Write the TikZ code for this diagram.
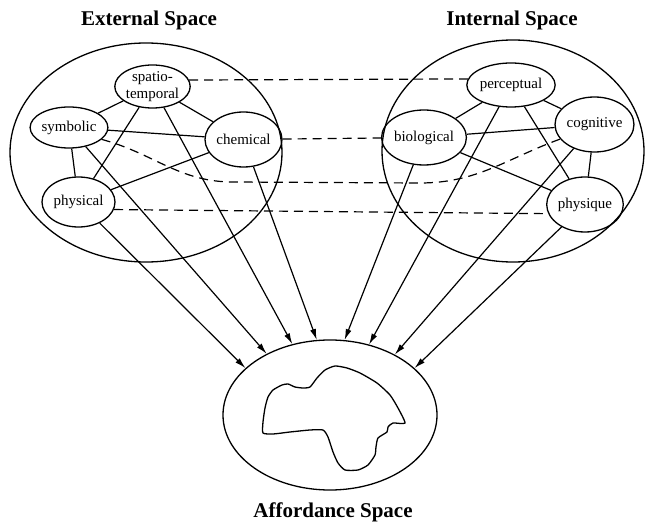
\documentclass[tikz,border=0pt]{standalone}
\usepackage{fontspec}
\setmainfont{Liberation Serif}
\usetikzlibrary{shapes.geometric}
\usetikzlibrary{arrows.meta}

\tikzset{
  spacering/.style={draw,ellipse,line width=1.3pt,inner sep=0pt},
  facet/.style={draw,ellipse,line width=1.3pt,inner sep=0pt,align=center,
    font=\fontsize{15}{17}\selectfont},
  title/.style={font=\fontsize{21}{24}\selectfont\bfseries},
  link/.style={line width=1.2pt},
  bridge/.style={line width=1.2pt,dash pattern=on 9pt off 6pt},
  feed/.style={line width=1.2pt,-{Latex[length=11pt,width=6pt]}}
}

\begin{document}
\begin{tikzpicture}[x=1pt,y=1pt]
  \useasboundingbox (0,0) rectangle (646,523);

  % the three spaces
  \node [spacering,minimum width=272pt,minimum height=219pt] (ext) at (146,370.5) {};
  \node [spacering,minimum width=262pt,minimum height=222pt] (int) at (513,372) {};
  \node [spacering,minimum width=214pt,minimum height=150pt] (aff) at (330,108) {};

  \node [title] (exttitle) at (149,503) {External Space};
  \node [title] (inttitle) at (512,503) {Internal Space};
  \node [title] (afftitle) at (333,11) {Affordance Space};

  % external facets
  \node [facet,minimum width=75pt,minimum height=43pt] (spatio) at (152.5,436.5) {spatio-\\temporal};
  \node [facet,minimum width=72pt,minimum height=41pt] (symb) at (69,395.5) {symbolic};
  \node [facet,minimum width=77pt,minimum height=55pt] (chem) at (243.5,383.5) {chemical};
  \node [facet,minimum width=73pt,minimum height=50pt] (phys) at (78.5,321) {physical};

  % internal facets
  \node [facet,minimum width=78pt,minimum height=44pt] (percep) at (511,438) {perceptual};
  \node [facet,minimum width=73pt,minimum height=55pt] (cog) at (594.5,398.5) {cognitive};
  \node [facet,minimum width=68pt,minimum height=55pt] (bio) at (424,385.5) {biological};
  \node [facet,minimum width=74pt,minimum height=55pt] (physq) at (585,318.5) {physique};

  \draw [link] (spatio) -- (symb);
  \draw [link] (spatio) -- (chem);
  \draw [link] (spatio) -- (phys);
  \draw [link] (symb) -- (chem);
  \draw [link] (symb) -- (phys);
  \draw [link] (phys) -- (chem);

  \draw [link] (percep) -- (bio);
  \draw [link] (percep) -- (cog);
  \draw [link] (percep) -- (physq);
  \draw [link] (bio) -- (cog);
  \draw [link] (bio) -- (physq);
  \draw [link] (cog) -- (physq);

  % correspondences
  \draw [bridge] (spatio.10) -- (percep.172);
  \draw [bridge] (chem) -- (bio);
  \draw [bridge] (phys.-12) -- (physq.194);
  \coordinate (dipL) at (233,341);
  \coordinate (dipR) at (420,340);
  \draw [bridge] (symb.-20) to[out=-15,in=180] (dipL) -- (dipR) to[out=0,in=200] (cog.203);

  % into the affordance space
  \draw [feed] (phys) -- (aff.151);
  \draw [feed] (symb) -- (aff.136);
  \draw [feed] (spatio) -- (aff.118);
  \draw [feed] (chem) -- (aff.100);
  \draw [feed] (bio) -- (aff.79);
  \draw [feed] (percep) -- (aff.61);
  \draw [feed] (cog) -- (aff.43);
  \draw [feed] (physq) -- (aff.29);

  \draw [line width=1.3pt] plot [smooth cycle,tension=0.35] coordinates {
    (263,90) (263,101) (265,115) (268,126) (273,133) (282,138) (288,139)
    (295,136) (303,135) (310,136) (317,145) (325,153) (335,157) (347,155)
    (360,150) (377,140) (390,128) (398,115) (405,100) (393,100) (388,96)
    (387,91) (378,85) (376,76) (375,68) (368,58) (358,53) (345,53) (338,60)
    (333,71) (328,86) (323,93) (310,93) (290,91) (273,89)};
\end{tikzpicture}
\end{document}
